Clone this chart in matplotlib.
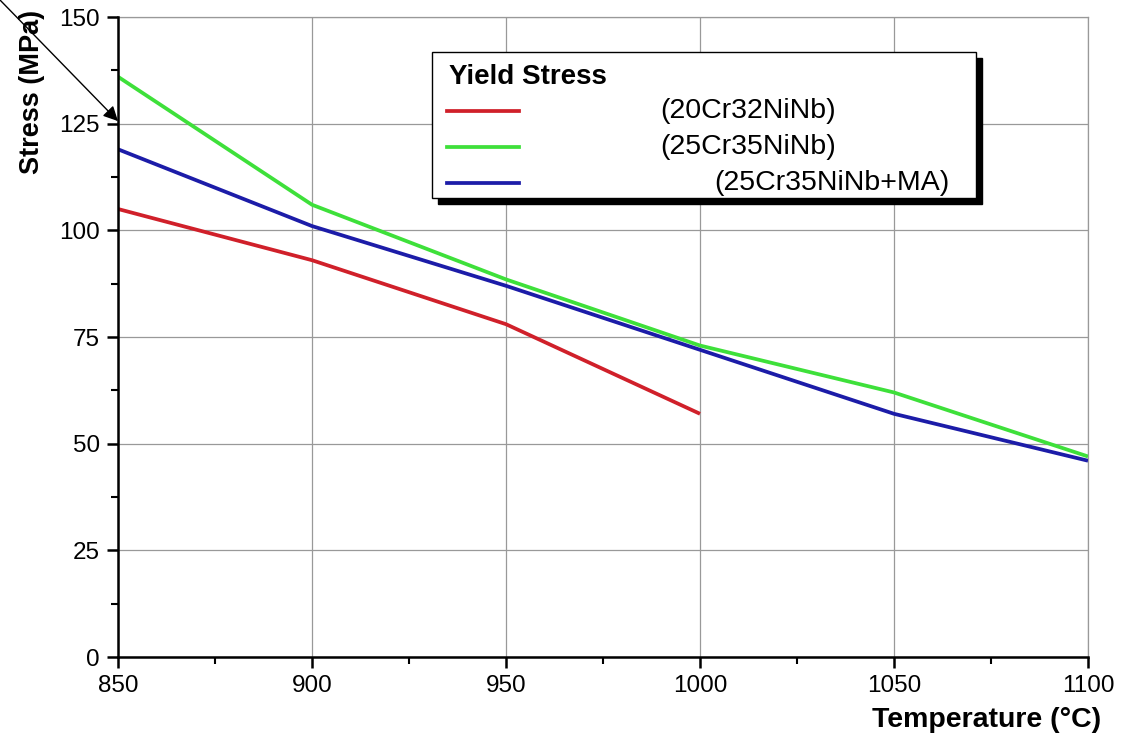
import matplotlib.pyplot as plt
from matplotlib.patches import Rectangle, Shadow
from matplotlib.lines import Line2D
from matplotlib.ticker import MultipleLocator

plt.rcParams['font.family'] = ['Liberation Sans', 'DejaVu Sans']

# data
temp_20cr = [850, 900, 950, 1000]
stress_20cr = [105, 93, 78, 57]
temp_25cr = [850, 900, 950, 1000, 1050, 1100]
stress_25cr = [136, 106, 88.5, 73, 62, 47]
temp_25cr_ma = [850, 900, 950, 1000, 1050, 1100]
stress_25cr_ma = [119, 101, 87, 72, 57, 46]

labels = ['(20Cr32NiNb)', '(25Cr35NiNb)', '(25Cr35NiNb+MA)']
colors = ['#d0202a', '#3ee03a', '#1c1ca8']

fig = plt.figure(figsize=(11.22, 7.4), dpi=100)
ax = fig.add_axes([118 / 1122, 1 - 657 / 740, 970 / 1122, 640 / 740])

series = [(temp_20cr, stress_20cr), (temp_25cr, stress_25cr),
          (temp_25cr_ma, stress_25cr_ma)]
for (x, y), c in zip(series, colors):
    ax.plot(x, y, color=c, lw=2.7, solid_capstyle='butt', zorder=3)

ax.set_xlim(850, 1100)
ax.set_ylim(0, 150)
ax.xaxis.set_major_locator(MultipleLocator(50))
ax.xaxis.set_minor_locator(MultipleLocator(25))
ax.yaxis.set_major_locator(MultipleLocator(25))
ax.yaxis.set_minor_locator(MultipleLocator(12.5))
ax.grid(True, which='major', color='#999999', lw=0.9)
ax.set_axisbelow(True)

for side in ['left', 'bottom']:
    ax.spines[side].set_linewidth(1.8)
    ax.spines[side].set_zorder(4)
for side in ['top', 'right']:
    ax.spines[side].set_color('#999999')
    ax.spines[side].set_linewidth(0.9)

ax.tick_params(which='major', direction='out', length=8, width=1.8,
               labelsize=17.5, pad=5, top=False, right=False)
ax.tick_params(which='minor', direction='out', length=5, width=1.5,
               top=False, right=False)

fig.text(32 / 1122, 1 - 92 / 740, 'Stress (MPa)', rotation=90,
         ha='center', va='center', fontsize=19.5, fontweight='bold')
fig.text(1101 / 1122, 1 - 720 / 740, 'Temperature (°C)', ha='right',
         va='center', fontsize=20.5, fontweight='bold')

# legend box drawn by hand to keep the odd label spacing
box = Rectangle((0.3237, 0.717), 0.5608, 0.2283, transform=ax.transAxes,
                facecolor='white', edgecolor='black', lw=1, zorder=6)
shadow = Shadow(box, 4.5 / 970, -4.5 / 640, facecolor='black',
                edgecolor='black', alpha=1, zorder=5)
ax.add_patch(shadow)
ax.add_patch(box)
ax.text(0.341, 0.906, 'Yield Stress', transform=ax.transAxes, fontsize=20,
        fontweight='bold', va='center', ha='left', zorder=7)
row_y = [0.853, 0.797, 0.741]
label_x = [0.559, 0.559, 0.615]
for lab, c, yy, xx in zip(labels, colors, row_y, label_x):
    ax.add_line(Line2D([0.339, 0.413], [yy, yy], transform=ax.transAxes,
                       color=c, lw=2.7, zorder=7))
    ax.text(xx, yy, lab, transform=ax.transAxes, fontsize=20.5,
            va='center', ha='left', zorder=7)

ax.annotate('', xy=(850, 125.6), xycoords='data',
            xytext=(0.0, 1.0), textcoords='figure fraction',
            arrowprops=dict(arrowstyle='-|>', color='black', lw=1,
                            mutation_scale=22, shrinkA=0, shrinkB=0),
            annotation_clip=False, zorder=8)

fig.savefig('out.png', dpi=100, facecolor='white')
